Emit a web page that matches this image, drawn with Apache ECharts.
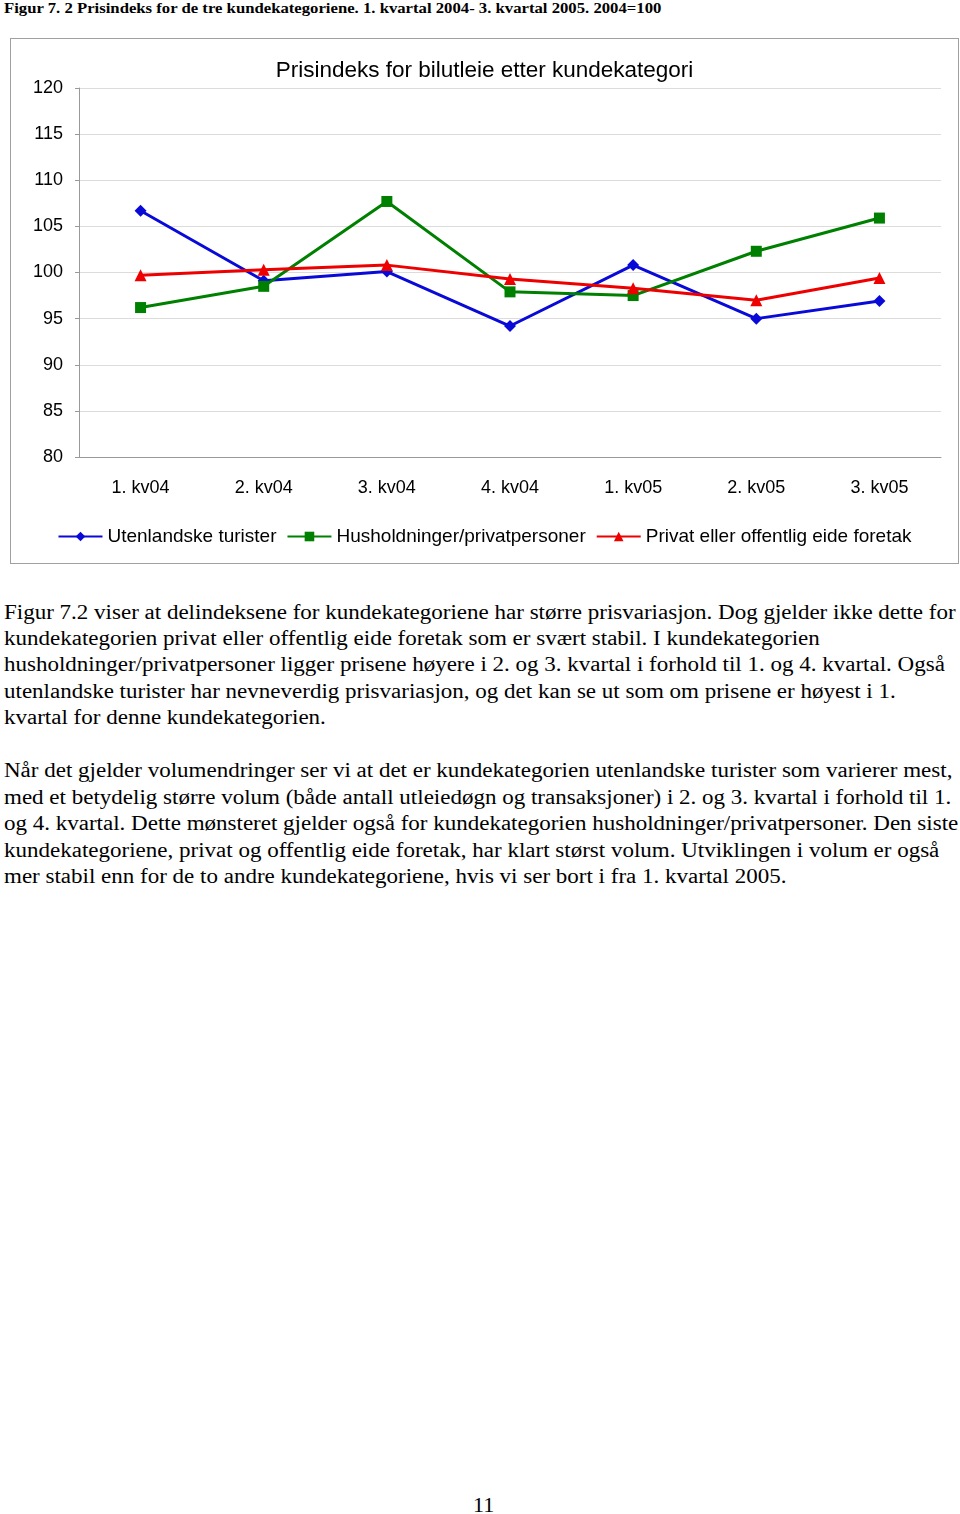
<!DOCTYPE html>
<html><head><meta charset="utf-8">
<script src="https://cdn.jsdelivr.net/npm/echarts@6/dist/echarts.min.js"></script>
<style>
body{margin:0;width:960px;height:1514px;background:#fff;position:relative;overflow:hidden;}
#cap{position:absolute;left:4px;top:0px;font:bold 15px "Liberation Serif",serif;color:#000;white-space:nowrap;transform:scaleX(1.113);transform-origin:0 0;}
#chart{position:absolute;left:10px;top:38px;width:947px;height:524px;border:1px solid #a0a0a0;}
.ln{position:absolute;left:4px;font:20px "Liberation Serif",serif;color:#000;white-space:nowrap;transform:scaleX(1.15);transform-origin:0 0;}
#pg{position:absolute;left:473px;top:1494px;font:20px "Liberation Serif",serif;transform:scaleX(1.1);transform-origin:0 0;}
</style></head><body>
<div id="cap">Figur 7. 2 Prisindeks for de tre kundekategoriene. 1. kvartal 2004- 3. kvartal 2005. 2004=100</div>
<div id="chart"></div>
<div id="text"></div>
<div id="pg">11</div>
<script>
const categories = ['1. kv04','2. kv04','3. kv04','4. kv04','1. kv05','2. kv05','3. kv05'];
const utenlandske = [106.7, 99.1, 100.1, 94.2, 100.8, 95.0, 96.9];
const husholdninger = [96.2, 98.5, 107.7, 97.9, 97.5, 102.3, 105.9];
const foretak = [99.7, 100.3, 100.8, 99.3, 98.3, 97.0, 99.4];
const seriesNames = ['Utenlandske turister','Husholdninger/privatpersoner','Privat eller offentlig eide foretak'];

const lines = [
 [612,'Figur 7.2 viser at delindeksene for kundekategoriene har større prisvariasjon. Dog gjelder ikke dette for'],
 [638,'kundekategorien privat eller offentlig eide foretak som er svært stabil. I kundekategorien'],
 [664,'husholdninger/privatpersoner ligger prisene høyere i 2. og 3. kvartal i forhold til 1. og 4. kvartal. Også'],
 [691,'utenlandske turister har nevneverdig prisvariasjon, og det kan se ut som om prisene er høyest i 1.'],
 [717,'kvartal for denne kundekategorien.'],
 [770,'Når det gjelder volumendringer ser vi at det er kundekategorien utenlandske turister som varierer mest,'],
 [797,'med et betydelig større volum (både antall utleiedøgn og transaksjoner) i 2. og 3. kvartal i forhold til 1.'],
 [823,'og 4. kvartal. Dette mønsteret gjelder også for kundekategorien husholdninger/privatpersoner. Den siste'],
 [850,'kundekategoriene, privat og offentlig eide foretak, har klart størst volum. Utviklingen i volum er også'],
 [876,'mer stabil enn for de to andre kundekategoriene, hvis vi ser bort i fra 1. kvartal 2005.']
];
const t = document.getElementById('text');
lines.forEach(([y,s])=>{const d=document.createElement('div');d.className='ln';d.style.top=(y-11)+'px';d.textContent=s;t.appendChild(d);});

const chart = echarts.init(document.getElementById('chart'));
const font = '"Liberation Sans", Arial, sans-serif';
function mk(name, data, color, symbol, size){
  return {name, type:'line', data, symbol, symbolSize:size,
    lineStyle:{color, width:3}, itemStyle:{color}, animation:false};
}
chart.setOption({
  animation:false,
  title:{text:'Prisindeks for bilutleie etter kundekategori', left:'center', top:15,
    textStyle:{fontFamily:font, fontSize:22.5, fontWeight:'normal', color:'#000'}},
  legend:{bottom:12, left:'center', itemWidth:44, itemHeight:12, itemGap:10,
    textStyle:{fontFamily:font, fontSize:19, color:'#000'}, data:seriesNames},
  grid:{left:68, right:17, top:49, bottom:106, containLabel:false},
  xAxis:{type:'category', data:categories, boundaryGap:true,
    axisLine:{lineStyle:{color:'#999'}}, axisTick:{length:5, lineStyle:{color:'#999'}},
    axisLabel:{fontFamily:font, fontSize:18, color:'#000', margin:22}},
  yAxis:{type:'value', min:80, max:120, interval:5,
    axisLine:{show:true, lineStyle:{color:'#999'}}, axisTick:{show:true, length:4, lineStyle:{color:'#999'}},
    splitLine:{lineStyle:{color:'#dcdcdc'}},
    axisLabel:{fontFamily:font, fontSize:18, color:'#000', margin:16}},
  series:[
    mk(seriesNames[0], utenlandske, '#0a0ad8', 'diamond', 12),
    mk(seriesNames[1], husholdninger, '#008000', 'rect', 11),
    mk(seriesNames[2], foretak, '#ee0000', 'triangle', 12)
  ]
});
</script>
</body></html>
